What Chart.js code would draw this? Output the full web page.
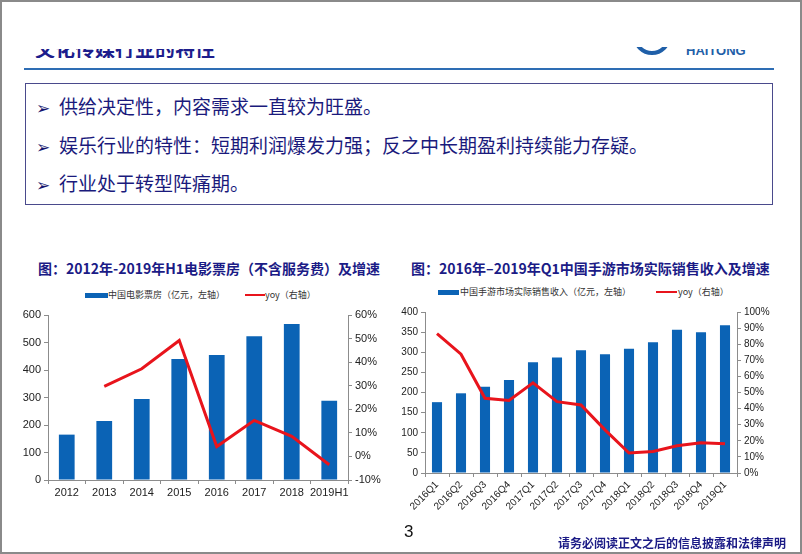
<!DOCTYPE html>
<html>
<head>
<meta charset="utf-8">
<script src="https://cdn.jsdelivr.net/npm/chart.js@4/dist/chart.umd.min.js"></script>
<style>
  html, body { margin: 0; padding: 0; }
  body { width: 802px; height: 554px; position: relative; background: #fff; overflow: hidden;
         font-family: "Noto Sans CJK SC", "Liberation Sans", sans-serif; }
  .frame { position: absolute; left: 0; top: 0; width: 798px; height: 550px; border: 2px solid #8a8a8a; }
  .abs { position: absolute; }
  .clip { position: absolute; overflow: hidden; }
  .hdr { color: #1d1d8c; font-size: 20px; font-weight: bold; white-space: nowrap; }
  .box { position: absolute; left: 25px; top: 83px; width: 746px; height: 120px; border: 1px solid #4a4a8c; }
  .bullet { position: absolute; left: 10px; color: #1a1a7c; font-size: 19px; white-space: nowrap; }
  .bullet span { font-size: 17px; margin-right: 9px; color: #14146e; }
  .title { position: absolute; color: #1b1b86; font-size: 14px; font-weight: bold; white-space: nowrap; }
  .leg { position: absolute; font-size: 9px; color: #333; white-space: nowrap; }
  .sw { position: absolute; }
  .foot { position: absolute; color: #1b1b86; font-weight: bold; font-size: 12px; white-space: nowrap; }
</style>
</head>
<body>
<div class="frame"></div>

<!-- header, partly cut off at the top -->
<div class="clip" style="left:30px; top:49px; width:260px; height:9px;">
  <div class="hdr abs" style="left:5px; top:-15px;">文化传媒行业的特性</div>
</div>
<div class="clip" style="left:630px; top:47px; width:42px; height:10px;">
  <div class="abs" style="left:3px; top:-30px; width:30px; height:30px; border-radius:50%; border:4px solid #1f5fa8;"></div>
</div>
<div class="clip" style="left:686px; top:49px; width:70px; height:8px;">
  <div class="abs" style="left:0; top:-6px; font-family:'Liberation Sans'; font-weight:bold; font-size:13px; color:#1f5fa8;">HAITONG</div>
</div>
<div class="abs" style="left:24px; top:68px; width:750px; height:2px; background:#2e6db4;"></div>

<div class="box">
  <div class="bullet" style="top:8px;"><span>➢</span>供给决定性，内容需求一直较为旺盛。</div>
  <div class="bullet" style="top:47px;"><span>➢</span>娱乐行业的特性：短期利润爆发力强；反之中长期盈利持续能力存疑。</div>
  <div class="bullet" style="top:85px;"><span>➢</span>行业处于转型阵痛期。</div>
</div>

<div class="title" style="left:38px; top:258px;">图：2012年-2019年H1电影票房（不含服务费）及增速</div>
<div class="title" style="left:411px; top:258px;">图：2016年–2019年Q1中国手游市场实际销售收入及增速</div>

<div class="sw" style="left:85px; top:293px; width:23px; height:5px; background:#0b63b5;"></div>
<div class="leg" style="left:108px; top:288px;">中国电影票房（亿元，左轴）</div>
<div class="sw" style="left:245px; top:294px; width:20px; height:2px; background:#e8141c;"></div>
<div class="leg" style="left:265px; top:288px;">yoy（右轴）</div>

<div class="sw" style="left:438px; top:290px; width:21px; height:5px; background:#0b63b5;"></div>
<div class="leg" style="left:460px; top:285px;">中国手游市场实际销售收入（亿元，左轴）</div>
<div class="sw" style="left:656px; top:291px; width:21px; height:2px; background:#e8141c;"></div>
<div class="leg" style="left:678px; top:285px;">yoy（右轴）</div>

<canvas id="boxOffice" class="abs" style="left:10px; top:305px;"></canvas>
<canvas id="mobileGames" class="abs" style="left:395px; top:300px;"></canvas>

<div class="abs" style="left:404px; top:522px; font-family:'Liberation Sans'; font-size:17px; color:#111;">3</div>
<div class="foot" style="left:558px; top:534px;">请务必阅读正文之后的信息披露和法律声明</div>

<script>
// film box office
const filmYears = ['2012', '2013', '2014', '2015', '2016', '2017', '2018', '2019H1'];
const filmRevenue = [165, 215, 295, 440, 455, 523, 567, 288];
const filmYoy = [null, 29.7, 37.2, 49.2, 4.2, 15.3, 8.5, -3.5];

// mobile games
const gameQuarters = ['2016Q1', '2016Q2', '2016Q3', '2016Q4', '2017Q1', '2017Q2', '2017Q3',
                      '2017Q4', '2018Q1', '2018Q2', '2018Q3', '2018Q4', '2019Q1'];
const gameRevenue = [176, 198, 214, 231, 275, 287, 305, 295, 309, 325, 356, 350, 367];
const gameYoy = [86.6, 73.8, 46.4, 45.0, 56.0, 44.3, 42.3, 26.8, 12.4, 13.4, 16.9, 18.8, 18.1];

const BLUE = '#0b63b5';
const RED = '#e8141c';
const AXIS = '#8c8c8c';

function fixedWidth(w) {
    return function (scale) { scale.width = w; };
}
function fixedHeight(h) {
    return function (scale) { scale.height = h; };
}

function makeChart(id, w, h, labels, bars, yoy, opt) {
    const canvas = document.getElementById(id);
    canvas.width = w;
    canvas.height = h;
    canvas.style.width = w + 'px';
    canvas.style.height = h + 'px';
    const tickFont = { family: 'Liberation Sans', size: opt.fontSize };
    return new Chart(canvas.getContext('2d'), {
        data: {
            labels: labels,
            datasets: [
                {
                    type: 'line',
                    data: yoy,
                    yAxisID: 'y1',
                    borderColor: RED,
                    borderWidth: 3,
                    pointRadius: 0,
                    tension: 0,
                    order: 0
                },
                {
                    type: 'bar',
                    data: bars,
                    yAxisID: 'y',
                    backgroundColor: BLUE,
                    categoryPercentage: 1,
                    barPercentage: 0.42,
                    order: 1
                }
            ]
        },
        options: {
            responsive: false,
            animation: false,
            devicePixelRatio: 1,
            layout: { padding: { top: opt.top, left: 0, right: 0, bottom: 0 } },
            plugins: { legend: { display: false }, tooltip: { enabled: false } },
            scales: {
                x: {
                    grid: { drawOnChartArea: false, drawTicks: true, tickLength: 4, color: AXIS },
                    border: { color: AXIS },
                    ticks: { color: '#222', font: tickFont, minRotation: opt.rot, maxRotation: opt.rot, autoSkip: false, padding: 2 },
                    afterFit: fixedHeight(opt.xh)
                },
                y: {
                    position: 'left',
                    min: 0, max: opt.yMax,
                    ticks: { stepSize: opt.yStep, color: '#222', font: tickFont, padding: 3 },
                    grid: { drawOnChartArea: false, tickLength: 4, color: AXIS },
                    border: { color: AXIS },
                    afterFit: fixedWidth(opt.yw)
                },
                y1: {
                    position: 'right',
                    min: opt.pMin, max: opt.pMax,
                    ticks: { stepSize: 10, color: '#222', font: tickFont, padding: 3,
                             callback: v => v + '%' },
                    grid: { drawOnChartArea: false, tickLength: 4, color: AXIS },
                    border: { color: AXIS },
                    afterFit: fixedWidth(opt.y1w)
                }
            }
        }
    });
}

makeChart('boxOffice', 380, 195, filmYears, filmRevenue, filmYoy, {
    fontSize: 11, top: 10, rot: 0, xh: 20, yw: 38, y1w: 42,
    yMax: 600, yStep: 100, pMin: -10, pMax: 60
});

makeChart('mobileGames', 400, 225, gameQuarters, gameRevenue, gameYoy, {
    fontSize: 10, top: 12, rot: 45, xh: 52, yw: 30, y1w: 58,
    yMax: 400, yStep: 50, pMin: 0, pMax: 100
});
</script>
</body>
</html>
